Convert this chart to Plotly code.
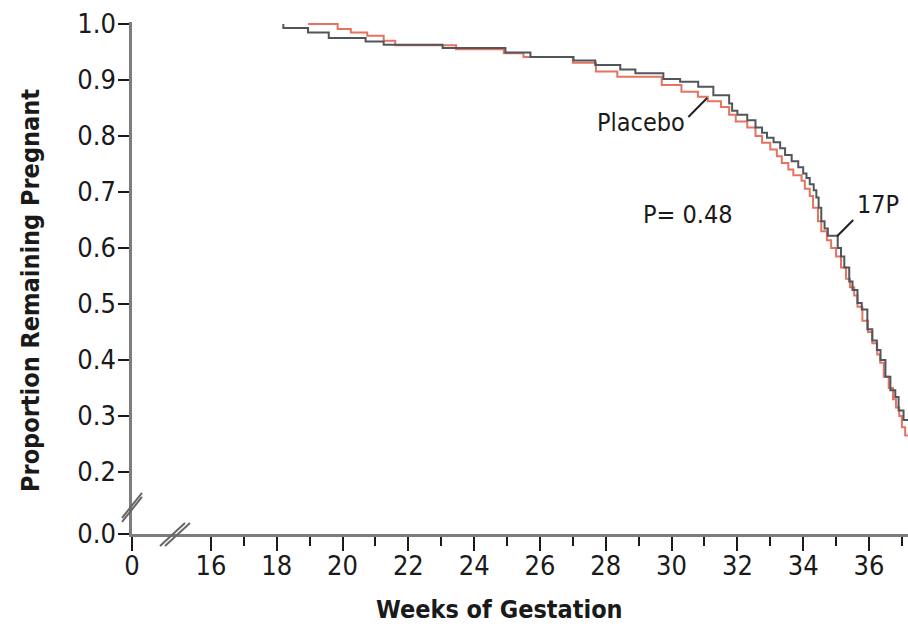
import plotly.graph_objects as go

# ---------------- data ----------------
weeks_17p = [18.2, 18.2, 18.95, 19.58, 20.7, 21.25, 23.04, 24.95, 25.71, 27.02, 27.68, 28.44, 28.9,
             29.75, 30.26, 30.81, 31.27, 31.75, 31.84, 32.0, 32.3, 32.55, 32.75, 32.9, 33.1, 33.3,
             33.45, 33.65, 33.85, 34.0, 34.1, 34.2, 34.32, 34.4, 34.47, 34.55, 34.65, 34.75, 35.05,
             35.15, 35.25, 35.4, 35.5, 35.65, 35.78, 35.95, 36.1, 36.24, 36.35, 36.5, 36.65, 36.8,
             36.9, 37.05, 37.2]
surv_17p = [1.0, 0.993, 0.985, 0.975, 0.969, 0.963, 0.957, 0.949, 0.941, 0.935, 0.927, 0.919, 0.912,
            0.902, 0.897, 0.888, 0.873, 0.858, 0.845, 0.838, 0.828, 0.815, 0.806, 0.797, 0.789, 0.778,
            0.766, 0.755, 0.744, 0.733, 0.725, 0.714, 0.703, 0.69, 0.672, 0.648, 0.635, 0.622, 0.6,
            0.585, 0.565, 0.54, 0.525, 0.502, 0.49, 0.455, 0.435, 0.418, 0.4, 0.37, 0.346, 0.334,
            0.31, 0.293, 0.293]

weeks_placebo = [18.95, 19.85, 20.25, 20.75, 21.25, 21.6, 23.45, 24.9, 25.5, 27.0, 27.7, 28.35, 29.7,
                 30.3, 30.8, 31.1, 31.5, 31.75, 31.95, 32.3, 32.55, 32.75, 33.0, 33.2, 33.35, 33.55,
                 33.7, 33.95, 34.05, 34.2, 34.3, 34.45, 34.55, 34.72, 34.85, 35.0, 35.15, 35.3, 35.42,
                 35.55, 35.65, 35.8, 35.97, 36.1, 36.25, 36.34, 36.45, 36.6, 36.73, 36.82, 36.92, 37.0,
                 37.1, 37.2]
surv_placebo = [1.0, 0.991, 0.985, 0.979, 0.97, 0.962, 0.955, 0.948, 0.941, 0.931, 0.915, 0.906, 0.891,
                0.879, 0.87, 0.862, 0.852, 0.838, 0.826, 0.815, 0.8, 0.788, 0.776, 0.764, 0.752, 0.74,
                0.73, 0.72, 0.706, 0.693, 0.672, 0.648, 0.63, 0.614, 0.6, 0.585, 0.565, 0.545, 0.53,
                0.515, 0.495, 0.47, 0.45, 0.43, 0.41, 0.395, 0.37, 0.35, 0.33, 0.315, 0.3, 0.28,
                0.265, 0.265]

x_tick_labels = ["0", "16", "18", "20", "22", "24", "26", "28", "30", "32", "34", "36"]
x_minor_weeks = [17, 19, 21, 23, 25, 27, 29, 31, 33, 35, 37]
y_tick_labels = ["0.0", "0.2", "0.3", "0.4", "0.5", "0.6", "0.7", "0.8", "0.9", "1.0"]

# ---------------- broken-axis mapping ----------------
X_ZERO_POS = 13.6      # where week 0 is drawn (axis break between 0 and 16)
Y_ZERO_POS = 0.0893    # where 0.0 is drawn (axis break between 0.0 and 0.2)

x_tickvals = [X_ZERO_POS] + [float(v) for v in x_tick_labels[1:]]
y_tickvals = [Y_ZERO_POS] + [float(v) for v in y_tick_labels[1:]]

FONT = "DejaVu Sans Condensed, Liberation Sans Narrow, Arial Narrow, sans-serif"
TXT = "#1a1a1a"
GRAY = "#50565a"
RED = "#e5735f"

fig = go.Figure()
fig.add_trace(go.Scatter(x=weeks_placebo, y=surv_placebo, mode="lines", line_shape="hv",
                         line=dict(color=RED, width=2), name="Placebo", showlegend=False))
fig.add_trace(go.Scatter(x=weeks_17p, y=surv_17p, mode="lines", line_shape="hv",
                         line=dict(color=GRAY, width=2), name="17P", showlegend=False))

fig.update_layout(
    width=908, height=626,
    margin=dict(l=132, r=0, t=22, b=92),
    paper_bgcolor="white", plot_bgcolor="white",
    font=dict(family=FONT, color=TXT),
    xaxis=dict(range=[X_ZERO_POS, 37.186], showgrid=False, zeroline=False,
               showline=True, linecolor="#7d7d7d", linewidth=2.5,
               tickmode="array", tickvals=x_tickvals, ticktext=x_tick_labels,
               ticks="outside", ticklen=14, tickwidth=2.2, tickcolor=TXT,
               ticklabelstandoff=-8,
               tickfont=dict(size=27, family=FONT, color=TXT),
               minor=dict(tickvals=x_minor_weeks, ticks="outside", ticklen=9,
                          tickwidth=2.2, tickcolor=TXT, showgrid=False)),
    yaxis=dict(range=[Y_ZERO_POS, 1.0036], showgrid=False, zeroline=False,
               showline=True, linecolor="#7d7d7d", linewidth=2.5,
               tickmode="array", tickvals=y_tickvals, ticktext=y_tick_labels,
               ticks="outside", ticklen=11, tickwidth=2.2, tickcolor=TXT,
               ticklabelstandoff=-3,
               tickfont=dict(size=27, family=FONT, color=TXT)),
)

# axis titles (as annotations for precise placement)
fig.add_annotation(text="<b>Weeks of Gestation</b>", xref="paper", yref="paper",
                   x=0.4742, y=-0.1484, xanchor="center", yanchor="middle", showarrow=False,
                   font=dict(size=25, family=FONT, color=TXT))
fig.add_annotation(text="<b>Proportion Remaining Pregnant</b>", xref="paper", yref="paper",
                   x=-0.1302, y=0.4766, xanchor="center", yanchor="middle", showarrow=False,
                   textangle=-90, font=dict(size=25, family=FONT, color=TXT))

# curve labels and p-value
fig.add_annotation(text="Placebo", x=30.48, y=0.824, xanchor="right", yanchor="middle",
                   showarrow=False, font=dict(size=25, family=FONT, color=TXT))
fig.add_annotation(text="17P", x=36.28, y=0.677, xanchor="center", yanchor="middle",
                   showarrow=False, font=dict(size=25, family=FONT, color=TXT))
fig.add_annotation(text="P= 0.48", x=30.51, y=0.659, xanchor="center", yanchor="middle",
                   showarrow=False, font=dict(size=25, family=FONT, color=TXT))

# leader lines
fig.add_shape(type="line", x0=30.51, y0=0.834, x1=31.08, y1=0.868,
              line=dict(color="#222222", width=2))
fig.add_shape(type="line", x0=35.03, y0=0.621, x1=35.52, y1=0.65,
              line=dict(color="#222222", width=2))

# axis-break marks "//" (paper refs so they are not clipped to the plot area)
for dx in (0, 5):
    fig.add_shape(type="line", xref="paper", yref="paper", xsizemode="pixel", ysizemode="pixel",
                  xanchor=0.0554, yanchor=0.0,
                  x0=-15 + dx, y0=-12, x1=10 + dx, y1=11,
                  line=dict(color="#666666", width=2))
for dy in (0, 4):
    fig.add_shape(type="line", xref="paper", yref="paper", xsizemode="pixel", ysizemode="pixel",
                  xanchor=0.0, yanchor=0.0547,
                  x0=-10, y0=-12 - dy, x1=10, y1=13 - dy,
                  line=dict(color="#666666", width=2))

fig.write_html("out.html")
